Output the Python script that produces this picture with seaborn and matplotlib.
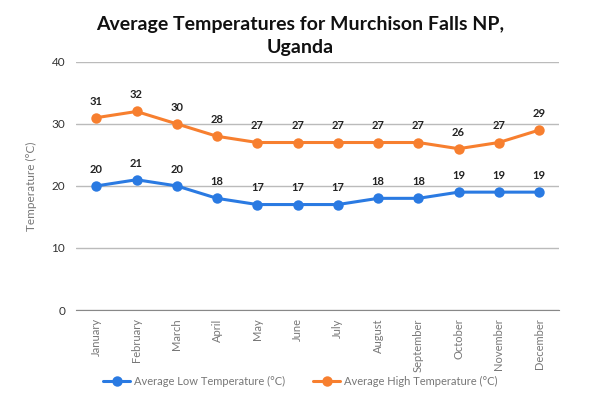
import matplotlib
matplotlib.use("Agg")
import matplotlib.pyplot as plt
import numpy as np
import pandas as pd
import seaborn as sns

months = ["January", "February", "March", "April", "May", "June", "July",
          "August", "September", "October", "November", "December"]
low_temps = [20, 21, 20, 18, 17, 17, 17, 18, 18, 19, 19, 19]
high_temps = [31, 32, 30, 28, 27, 27, 27, 27, 27, 26, 27, 29]
low_name = "Average Low Temperature (°C)"
high_name = "Average High Temperature (°C)"

blue = "#2a7ae2"
orange = "#f77f2f"

df = pd.DataFrame({
    "idx": list(range(len(months))) * 2,
    "temp": low_temps + high_temps,
    "series": [low_name] * len(months) + [high_name] * len(months),
})

sns.set_style("white")
plt.rcParams["font.family"] = ["Lato", "DejaVu Sans"]

fig = plt.figure(figsize=(6, 3.99), dpi=100)
ax = fig.add_axes([0.127, 0.223, 0.805, 0.622])

sns.lineplot(data=df, x="idx", y="temp", hue="series",
             palette={low_name: blue, high_name: orange},
             marker="o", markersize=7.5, markeredgewidth=0, linewidth=2.2,
             ax=ax)

for series, vals in [(low_name, low_temps), (high_name, high_temps)]:
    for i, v in enumerate(vals):
        ax.annotate(str(v), (i, v), xytext=(0, 8), textcoords="offset points",
                    ha="center", va="bottom", fontsize=8, fontweight="bold",
                    color="#222222")

ax.set_xlim(-0.5, len(months) - 0.5)
ax.set_ylim(0, 40)
ax.set_yticks([0, 10, 20, 30, 40])
ax.yaxis.grid(True, color="#bbbbbb", linewidth=1)
ax.set_axisbelow(True)
ax.tick_params(axis="y", length=0, labelsize=8.5, labelcolor="#333333", pad=8)

ax.set_xticks(np.arange(-0.5, len(months), 1))
ax.set_xticklabels([])
ax.tick_params(axis="x", which="major", length=4, color="#888888")
ax.set_xticks(range(len(months)), minor=True)
ax.set_xticklabels(months, minor=True, rotation=90, fontsize=8, color="#777777")
ax.tick_params(axis="x", which="minor", length=0, pad=6)

for s in ["top", "right", "left"]:
    ax.spines[s].set_visible(False)
ax.spines["bottom"].set_color("#888888")

ax.set_xlabel("")
ax.set_ylabel("Temperature (°C)", fontsize=8.5, color="#777777", labelpad=10)

ax.legend_.remove()
handles, labels = ax.get_legend_handles_labels()
fig.legend(handles, labels, loc="center", bbox_to_anchor=(0.5, 0.045), ncol=2,
           frameon=False, fontsize=8, labelcolor="#777777", handlelength=2.5,
           columnspacing=2.5, handletextpad=0.3)

fig.suptitle("Average Temperatures for Murchison Falls NP,\nUganda",
             x=0.5, y=0.96, fontsize=14, fontweight="bold", color="#111111",
             linespacing=1.45)

fig.savefig("out.png", dpi=100)
